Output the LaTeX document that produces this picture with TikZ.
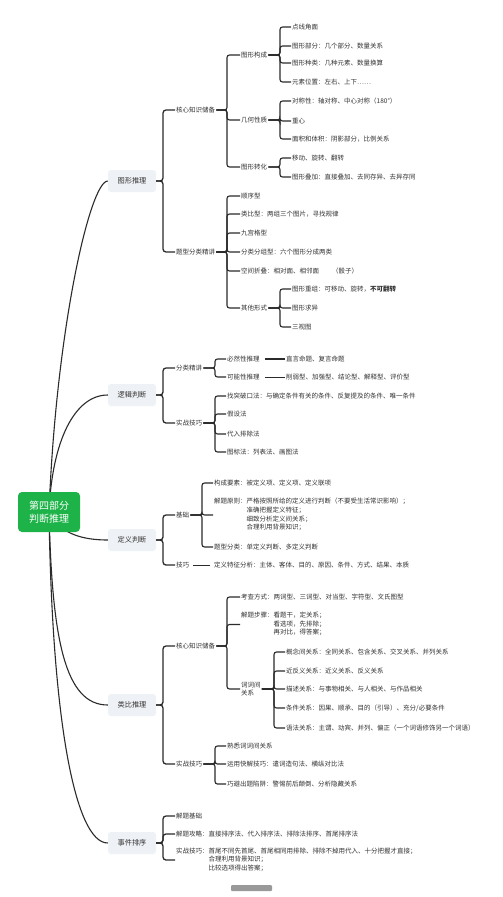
\documentclass[tikz,border=0pt]{standalone}
\usepackage{fontspec}
\setmainfont{Noto Sans CJK SC}
\usetikzlibrary{backgrounds}
\definecolor{txt}{HTML}{333333}
\definecolor{linec}{HTML}{2B2B2B}
\definecolor{boxc}{HTML}{EEF1F5}
\definecolor{rootc}{HTML}{1DB348}
\newcommand\mmfs{\fontsize{6.5}{8.7}\selectfont}
\begin{document}
\begin{tikzpicture}[x=1pt,y=-1pt,
  t/.style={anchor=west, inner sep=1pt, text=txt, font=\mmfs},
  lv1/.style={fill=boxc, rounded corners=3pt, minimum width=48pt, minimum height=22pt, inner sep=0pt, text=txt, font=\fontsize{7.2}{9}\selectfont},
  rootbox/.style={fill=rootc, rounded corners=4pt, minimum width=62pt, minimum height=40pt, inner sep=0pt, text=white, align=center, font=\fontsize{10}{12.5}\selectfont},
  br1/.style={draw=linec, line width=1.3pt, rounded corners=3pt},
  br/.style={draw=linec, line width=1.1pt, rounded corners=2.5pt},
  curve/.style={draw=linec, line width=1.1pt}]
\useasboundingbox (0,0) rectangle (503,897);

\coordinate (x163) at (163,0);
\coordinate (x202) at (202,0);
\coordinate (x215) at (215,0);
\coordinate (x227) at (227,0);
\coordinate (x274) at (274,0);
\coordinate (x280) at (280,0);

% root and level 1
\node[rootbox] (root) at (49,512) {第四部分\\判断推理};
\node[lv1] (A) at (132,181) {图形推理};
\node[lv1] (B) at (132,395) {逻辑判断};
\node[lv1] (C) at (132,540) {定义判断};
\node[lv1] (D) at (132,705) {类比推理};
\node[lv1] (E) at (132,843) {事件排序};

\begin{pgfonlayer}{background}
\fill[white] (0,0) rectangle (503,897);
\draw[curve] (root.center) .. controls (56,330) and (90,181) .. (A.west);
\draw[curve] (root.center) .. controls (52,440) and (75,395) .. (B.west);
\draw[curve] (root.center) .. controls (60,535) and (85,540) .. (C.west);
\draw[curve] (root.center) .. controls (52,640) and (65,705) .. (D.west);
\draw[curve] (root.center) .. controls (52,720) and (75,843) .. (E.west);
\end{pgfonlayer}

% ===== 图形推理 =====
\node[t] (A1) at (175,110) {核心知识储备};
\node[t] (A2) at (175,252) {题型分类精讲};
\foreach \c in {A1,A2} \draw[br1] (A.east) -- (A.east -| x163) |- (\c.west);

\node[t] (A11) at (240,55) {图形构成};
\node[t] (A12) at (240,120) {几何性质};
\node[t] (A13) at (240,167) {图形转化};
\foreach \c in {A11,A12,A13} \draw[br] (A1.east) -- (A1.east -| x227) |- (\c.west);

\node[t] (A111) at (291,27) {点线角面};
\node[t] (A112) at (291,46) {图形部分：几个部分、数量关系};
\node[t] (A113) at (291,63) {图形种类：几种元素、数量换算};
\node[t] (A114) at (291,82) {元素位置：左右、上下……};
\foreach \c in {A111,A112,A113,A114} \draw[br] (A11.east) -- (A11.east -| x280) |- (\c.west);

\node[t] (A121) at (291,101) {对称性：轴对称、中心对称（180°）};
\node[t] (A122) at (291,121) {重心};
\node[t] (A123) at (291,139) {面积和体积：阴影部分，比例关系};
\foreach \c in {A121,A122,A123} \draw[br] (A12.east) -- (A12.east -| x280) |- (\c.west);

\node[t] (A131) at (291,158) {移动、旋转、翻转};
\node[t] (A132) at (291,177) {图形叠加：直接叠加、去同存异、去异存同};
\foreach \c in {A131,A132} \draw[br] (A13.east) -- (A13.east -| x280) |- (\c.west);

\node[t] (A21) at (240,196) {顺序型};
\node[t] (A22) at (240,214) {类比型：两组三个图片，寻找规律};
\node[t] (A23) at (240,233) {九宫格型};
\node[t] (A24) at (240,252) {分类分组型：六个图形分成两类};
\node[t] (A25) at (240,271) {空间折叠：相对面、相邻面\quad\quad（骰子）};
\node[t] (A26) at (240,308) {其他形式};
\foreach \c in {A21,A22,A23,A24,A25,A26} \draw[br] (A2.east) -- (A2.east -| x227) |- (\c.west);

\node[t] (A261) at (291,289) {图形重组：可移动、旋转，\textbf{不可翻转}};
\node[t] (A262) at (291,308) {图形求异};
\node[t] (A263) at (291,327) {三视图};
\foreach \c in {A261,A262,A263} \draw[br] (A26.east) -- (A26.east -| x280) |- (\c.west);

% ===== 逻辑判断 =====
\node[t] (B1) at (175,368) {分类精讲};
\node[t] (B2) at (175,423) {实战技巧};
\foreach \c in {B1,B2} \draw[br1] (B.east) -- (B.east -| x163) |- (\c.west);

\node[t] (B11) at (226,359) {必然性推理};
\node[t] (B12) at (226,377) {可能性推理};
\foreach \c in {B11,B12} \draw[br] (B1.east) -- (B1.east -| x215) |- (\c.west);
\node[t] (B111) at (285,359) {直言命题、复言命题};
\node[t] (B121) at (285,377) {削弱型、加强型、结论型、解释型、评价型};
\draw[draw=linec, line width=2pt] ([xshift=4pt]B11.east) -- (B111.west);
\draw[draw=linec, line width=0.8pt] ([xshift=4pt]B12.east) -- (B121.west);

\node[t] (B21) at (226,396) {找突破口法：与确定条件有关的条件、反复提及的条件、唯一条件};
\node[t] (B22) at (226,414) {假设法};
\node[t] (B23) at (226,434) {代入排除法};
\node[t] (B24) at (226,452) {图标法：列表法、画图法};
\foreach \c in {B21,B22,B23,B24} \draw[br] (B2.east) -- (B2.east -| x215) |- (\c.west);

% ===== 定义判断 =====
\node[t] (C1) at (175,515) {基础};
\node[t] (C2) at (175,565) {技巧};
\foreach \c in {C1,C2} \draw[br1] (C.east) -- (C.east -| x163) |- (\c.west);

\node[t] (C11) at (213,483) {构成要素：被定义项、定义项、定义联项};
\node[t] (C12) at (213,515) {\begin{tabular}{@{}l@{}l@{}}解题原则：&严格按照所给的定义进行判断（不要受生活常识影响）；\\&准确把握定义特征；\\&细致分析定义间关系；\\&合理利用背景知识；\end{tabular}};
\node[t] (C13) at (213,547) {题型分类：单定义判断、多定义判断};
\foreach \c in {C11,C12,C13} \draw[br] (C1.east) -- (C1.east -| x202) |- (\c.west);

\node[t] (C21) at (213,565) {定义特征分析：主体、客体、目的、原因、条件、方式、结果、本质};
\draw[draw=linec, line width=1pt] ([xshift=3pt]C2.east) -- ([xshift=-3pt]C21.west);

% ===== 类比推理 =====
\node[t] (D1) at (175,646) {核心知识储备};
\node[t] (D2) at (175,764) {实战技巧};
\foreach \c in {D1,D2} \draw[br1] (D.east) -- (D.east -| x163) |- (\c.west);

\node[t] (D11) at (240,597) {考查方式：两词型、三词型、对当型、字符型、文氏图型};
\node[t] (D12) at (240,624.5) {\begin{tabular}{@{}l@{}l@{}}解题步骤：&看题干，定关系；\\&看选项，先排除；\\&再对比，得答案；\end{tabular}};
\node[t, align=left] (D13) at (240,689) {词词间\\关系};
\foreach \c in {D11,D12,D13} \draw[br] (D1.east) -- (D1.east -| x227) |- (\c.west);

\node[t] (D131) at (285,652) {概念间关系：全同关系、包含关系、交叉关系、并列关系};
\node[t] (D132) at (285,671) {近反义关系：近义关系、反义关系};
\node[t] (D133) at (285,689) {描述关系：与事物相关、与人相关、与作品相关};
\node[t] (D134) at (285,708) {条件关系：因果、顺承、目的（引导）、充分/必要条件};
\node[t] (D135) at (285,728) {语法关系：主谓、动宾、并列、偏正（一个词语修饰另一个词语）};
\foreach \c in {D131,D132,D133,D134,D135} \draw[br] (D13.east) -- (D13.east -| x274) |- (\c.west);

\node[t] (D21) at (226,746) {熟悉词词间关系};
\node[t] (D22) at (226,764) {运用快解技巧：遣词造句法、横纵对比法};
\node[t] (D23) at (226,784) {巧避出题陷阱：警惕前后颠倒、分析隐藏关系};
\foreach \c in {D21,D22,D23} \draw[br] (D2.east) -- (D2.east -| x215) |- (\c.west);

% ===== 事件排序 =====
\node[t] (E1) at (175,816) {解题基础};
\node[t] (E2) at (175,834) {解题攻略：直接排序法、代入排序法、排除法排序、首尾排序法};
\node[t] (E3) at (175,860) {\begin{tabular}{@{}l@{}l@{}}实战技巧：&首尾不同先首尾、首尾相同用排除、排除不掉用代入、十分把握才直接；\\&合理利用背景知识；\\&比较选项得出答案；\end{tabular}};
\foreach \c in {E1,E2,E3} \draw[br1] (E.east) -- (E.east -| x163) |- (\c.west);

% watermark
\fill[black!40, rounded corners=1pt] (231,885) rectangle (272,891);
\end{tikzpicture}
\end{document}
